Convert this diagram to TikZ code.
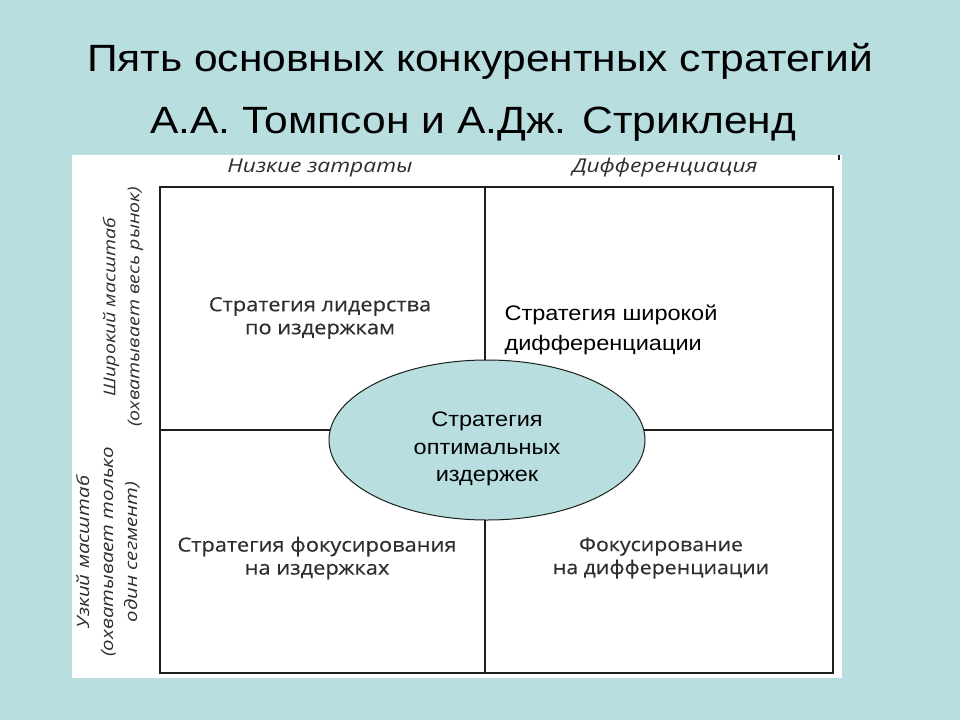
\documentclass[tikz,border=0pt]{standalone}
\usepackage{fontspec}
\setmainfont{Liberation Sans}[FakeStretch=1.12]
\newfontfamily\cellfont{Open Sans}[FakeStretch=1.12, FakeBold=0.35]
\newfontfamily\headfont{Open Sans}[FakeStretch=1.2]
\usetikzlibrary{shapes.geometric}
\definecolor{bg}{HTML}{B8DEDF}
\definecolor{ell}{HTML}{B8DEDF}
\definecolor{gridc}{HTML}{1E1E1E}
\definecolor{celltext}{HTML}{2E2E2E}
\tikzset{
  title/.style={font=\fontsize{38}{42}\selectfont, text=black, anchor=center},
  header/.style={font=\headfont\itshape\fontsize{19}{21}\selectfont, text=celltext},
  side/.style={font=\headfont\itshape\fontsize{17}{24}\selectfont, text=celltext, rotate=90, align=center},
  celltxt/.style={font=\cellfont\fontsize{19.5}{23}\selectfont, text=celltext, align=center},
  gridline/.style={draw=gridc, line width=2.2pt},
}
\begin{document}
\begin{tikzpicture}[x=1pt,y=-1pt]
\fill[bg] (0,0) rectangle (960,720);
\useasboundingbox (0,0) rectangle (960,720);
\fill[white] (72,155) rectangle (842,678);
\draw[gridc, line width=1.5pt] (839,155) -- (839,160);
\node[title] (t1) at (480,61) {Пять основных конкурентных стратегий};
\node[title] (t2) at (473,124) {А.А. Томпсон и А.Дж. Стрикленд};
\coordinate (tl) at (160,187);
\coordinate (br) at (833,673);
\coordinate (mt) at (485,187);
\coordinate (mb) at (485,673);
\coordinate (ml) at (160,430);
\coordinate (mr) at (833,430);
\draw[gridline] (tl) rectangle (br);
\draw[gridline, line width=1.8pt] (mt) -- (mb);
\draw[gridline, line width=1.8pt] (ml) -- (mr);
\node[ellipse, draw=gridc, line width=1pt, fill=ell, minimum width=316pt, minimum height=160pt] (opt) at (487,440) {};
\node[font=\fontsize{21}{27.5}\selectfont, align=center] (optt) at (487,449) {Стратегия\\оптимальных\\издержек};
\node[header] (h1) at (320,168) {Низкие затраты};
\node[header] (h2) at (665,168) {Дифференциация};
\node[side, font=\headfont\itshape\fontsize{16.3}{24}\selectfont] (s1) at (123,307) {Широкий масштаб\\(охватывает весь рынок)};
\node[side] (s2) at (108,552) {Узкий масштаб\\(охватывает только\\один сегмент)};
\node[celltxt] (c1) at (320,318) {Стратегия лидерства\\по издержкам};
\node[font=\fontsize{21}{30}\selectfont, align=left, anchor=north west] (c2) at (501,301) {Стратегия широкой\\дифференциации};
\node[celltxt] (c3) at (317,558) {Стратегия фокусирования\\на издержках};
\node[celltxt, font=\cellfont\fontsize{19}{23}\selectfont] (c4) at (661,558) {Фокусирование\\на дифференциации};
\end{tikzpicture}
\end{document}
